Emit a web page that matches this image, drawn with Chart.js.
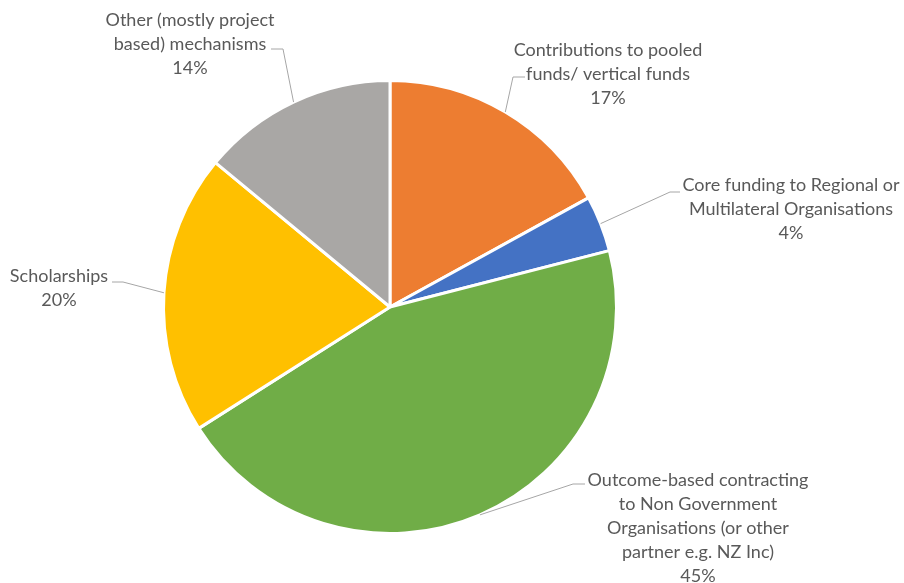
<!DOCTYPE html>
<html>
<head>
<meta charset="utf-8">
<title>Funding mechanisms</title>
<script src="https://cdn.jsdelivr.net/npm/chart.js@4.4.1/dist/chart.umd.min.js"></script>
<style>
  html, body { margin: 0; padding: 0; background: #fff; }
  #wrap { width: 904px; height: 583px; position: relative; }
</style>
</head>
<body>
<div id="wrap"><canvas id="pie"></canvas></div>
<script>
// funding split by mechanism, clockwise from 12 o'clock
const categories = [
    'Contributions to pooled funds/ vertical funds',
    'Core funding to Regional or Multilateral Organisations',
    'Outcome-based contracting to Non Government Organisations (or other partner e.g. NZ Inc)',
    'Scholarships',
    'Other (mostly project based) mechanisms'
];
const shares = [17, 4, 45, 20, 14];
const sliceColors = ['#ED7D31', '#4472C4', '#70AD47', '#FFC000', '#A9A7A5'];

// how each category name is wrapped in its label
const labelLines = [
    ['Contributions to pooled', 'funds/ vertical funds'],
    ['Core funding to Regional or', 'Multilateral Organisations'],
    ['Outcome-based contracting', 'to Non Government', 'Organisations (or other', 'partner e.g. NZ Inc)'],
    ['Scholarships'],
    ['Other (mostly project', 'based) mechanisms']
];

// label placement: text centre x, first line y, leader elbow and leader end
const labelSpots = [
    { x: 608, y: 50,  elbow: [513, 77],  end: [525, 77] },
    { x: 791, y: 185, elbow: [670, 192], end: [680, 192] },
    { x: 698, y: 480, elbow: [573, 484], end: [585, 484] },
    { x: 59,  y: 276, elbow: [123, 282], end: [112, 282] },
    { x: 190, y: 20,  elbow: [283, 49],  end: [271, 49] }
];

const calloutPlugin = {
    id: 'callouts',
    afterDatasetsDraw(chart) {
        const ctx = chart.ctx;
        const arcs = chart.getDatasetMeta(0).data;
        ctx.save();
        arcs.forEach((arc, i) => {
            const spot = labelSpots[i];
            const mid = (arc.startAngle + arc.endAngle) / 2;
            const px = arc.x + Math.cos(mid) * arc.outerRadius;
            const py = arc.y + Math.sin(mid) * arc.outerRadius;

            // leader line from the slice edge to the label
            ctx.strokeStyle = '#A6A6A6';
            ctx.lineWidth = 1;
            ctx.beginPath();
            ctx.moveTo(px, py);
            ctx.lineTo(spot.elbow[0], spot.elbow[1]);
            ctx.lineTo(spot.end[0], spot.end[1]);
            ctx.stroke();

            // name lines then the percentage
            ctx.fillStyle = '#595959';
            ctx.font = '18px Lato, "Open Sans", sans-serif';
            ctx.textAlign = 'center';
            ctx.textBaseline = 'middle';
            const lines = labelLines[i].concat([shares[i] + '%']);
            lines.forEach((t, k) => {
                ctx.fillText(t, spot.x, spot.y + k * 24);
            });
        });
        ctx.restore();
    }
};

new Chart(document.getElementById('pie'), {
    type: 'pie',
    data: {
        labels: categories,
        datasets: [{
            data: shares,
            backgroundColor: sliceColors,
            borderColor: '#ffffff',
            borderWidth: 3
        }]
    },
    options: {
        responsive: true,
        maintainAspectRatio: false,
        animation: false,
        layout: {
            padding: { left: 162, right: 286, top: 79, bottom: 48 }
        },
        plugins: {
            legend: { display: false },
            tooltip: { enabled: false }
        }
    },
    plugins: [calloutPlugin]
});
</script>
</body>
</html>
